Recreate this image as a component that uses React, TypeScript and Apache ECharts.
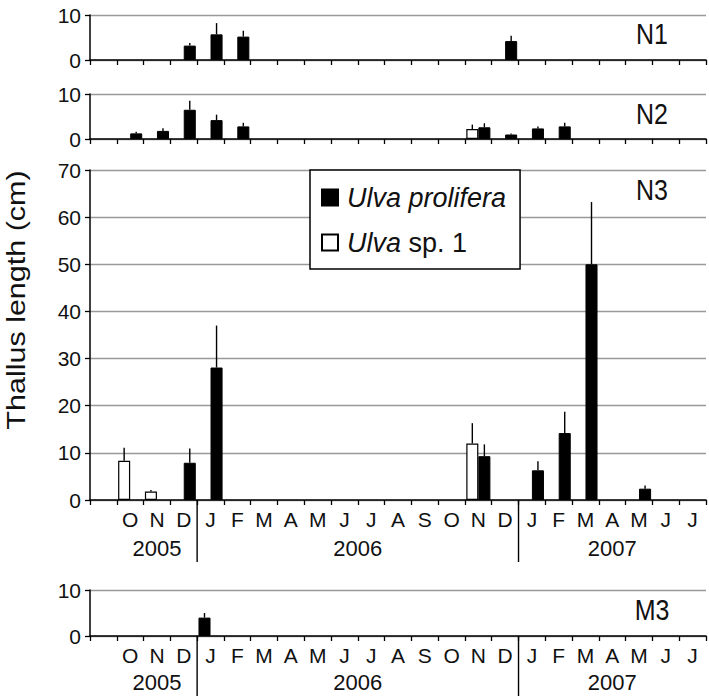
import React, { useEffect, useRef } from 'react';
import * as echarts from 'echarts';

// ---- Data ----
// Categories: Sep 2005 (blank) .. Jul 2007
const months = ['', 'O', 'N', 'D', 'J', 'F', 'M', 'A', 'M', 'J', 'J', 'A', 'S', 'O', 'N', 'D', 'J', 'F', 'M', 'A', 'M', 'J', 'J'];
const years = ['2005', '2006', '2007'];
const yearStart = [1, 4, 16];
const yearEnd = [3, 15, 22];
const panelNames = ['N1', 'N2', 'N3', 'M3'];
const panelMax = [10, 10, 70, 10];

const _ = null;
//                     -  O     N    D    J     F    M  A  M  J  J  A  S  O  N    D    J     F     M     A  M    J  J
const n1Prolifera = [_, _, _, 3.2, 5.7, 5.2, _, _, _, _, _, _, _, _, _, 4.2, _, _, _, _, _, _, _];
const n1ProliferaSD = [_, _, _, 0.6, 2.5, 1.3, _, _, _, _, _, _, _, _, _, 1.2, _, _, _, _, _, _, _];
const n1Sp1 = [_, _, _, _, _, _, _, _, _, _, _, _, _, _, _, _, _, _, _, _, _, _, _];
const n1Sp1SD = [_, _, _, _, _, _, _, _, _, _, _, _, _, _, _, _, _, _, _, _, _, _, _];

const n2Prolifera = [_, 1.25, 1.8, 6.5, 4.2, 2.8, _, _, _, _, _, _, _, _, 2.6, 1.0, 2.35, 2.8, _, _, _, _, _];
const n2ProliferaSD = [_, 0.35, 0.6, 2.0, 1.2, 0.8, _, _, _, _, _, _, _, _, 0.9, 0.25, 0.45, 0.8, _, _, _, _, _];
const n2Sp1 = [_, _, _, _, _, _, _, _, _, _, _, _, _, _, 2.2, _, _, _, _, _, _, _, _];
const n2Sp1SD = [_, _, _, _, _, _, _, _, _, _, _, _, _, _, 1.0, _, _, _, _, _, _, _, _];

const n3Prolifera = [_, _, _, 7.9, 28.1, _, _, _, _, _, _, _, _, _, 9.3, _, 6.3, 14.2, 50.0, _, 2.4, _, _];
const n3ProliferaSD = [_, _, _, 3.0, 8.9, _, _, _, _, _, _, _, _, _, 2.5, _, 1.9, 4.5, 13.2, _, 0.7, _, _];
const n3Sp1 = [_, 8.3, 1.8, _, _, _, _, _, _, _, _, _, _, _, 12.0, _, _, _, _, _, _, _, _];
const n3Sp1SD = [_, 2.8, 0.3, _, _, _, _, _, _, _, _, _, _, _, 4.3, _, _, _, _, _, _, _, _];

const m3Prolifera = [_, _, _, _, 4.0, _, _, _, _, _, _, _, _, _, _, _, _, _, _, _, _, _, _];
const m3ProliferaSD = [_, _, _, _, 1.0, _, _, _, _, _, _, _, _, _, _, _, _, _, _, _, _, _, _];
const m3Sp1 = [_, _, _, _, _, _, _, _, _, _, _, _, _, _, _, _, _, _, _, _, _, _, _];
const m3Sp1SD = [_, _, _, _, _, _, _, _, _, _, _, _, _, _, _, _, _, _, _, _, _, _, _];

const proliferaSets = [
  [n1Prolifera, n1ProliferaSD],
  [n2Prolifera, n2ProliferaSD],
  [n3Prolifera, n3ProliferaSD],
  [m3Prolifera, m3ProliferaSD],
];
const sp1Sets = [
  [n1Sp1, n1Sp1SD],
  [n2Sp1, n2Sp1SD],
  [n3Sp1, n3Sp1SD],
  [m3Sp1, m3Sp1SD],
];
// In M3 the single bar sits in the left slot
const proliferaFirst = [false, false, false, true];

const NAME_P = 'Ulva prolifera';
const NAME_S = 'Ulva sp. 1';

// ---- Layout ----
const gridTops = [15, 94, 170, 590];
const gridHeights = [45, 45, 330, 46];
const panelLabelY = [34, 114, 190, 610];
const yearOffset = [0, 0, 48, 46];
const dividerLen = [0, 0, 62, 62];
const FONT = "'Liberation Sans', Arial, sans-serif";

function errorSeries(panel: number, vals: (number | null)[], sds: (number | null)[], slot: number) {
  const data: number[][] = [];
  vals.forEach((v, i) => {
    if (v != null && sds[i] != null) data.push([i, v, v + (sds[i] as number)]);
  });
  return {
    type: 'custom',
    xAxisIndex: panel,
    yAxisIndex: panel,
    silent: true,
    z: 5,
    data,
    renderItem: (params: any, api: any) => {
      const idx = api.value(0);
      const p0 = api.coord([idx, api.value(1)]);
      const p1 = api.coord([idx, api.value(2)]);
      const bw = api.size([1, 0])[0];
      const x = p0[0] + slot * bw * 0.225;
      return {
        type: 'line',
        shape: { x1: x, y1: p0[1], x2: x, y2: p1[1] },
        style: { stroke: '#000', lineWidth: 1.4 },
      };
    },
  };
}

function yearSeries(panel: number) {
  return {
    type: 'custom',
    xAxisIndex: panel,
    yAxisIndex: panel,
    silent: true,
    clip: false,
    data: years.map((y, k) => [yearStart[k], 0, yearEnd[k], k]),
    renderItem: (params: any, api: any) => {
      const k = api.value(3);
      const s = api.coord([api.value(0), 0]);
      const e = api.coord([api.value(2), 0]);
      const bw = api.size([1, 0])[0];
      const children: any[] = [
        {
          type: 'text',
          style: {
            text: years[k],
            x: (s[0] + e[0]) / 2,
            y: s[1] + yearOffset[panel],
            align: 'center',
            verticalAlign: 'middle',
            fontSize: 22,
            fontFamily: FONT,
            fill: '#111',
          },
        },
      ];
      if (k > 0) {
        const xl = s[0] - bw / 2;
        children.push({
          type: 'line',
          shape: { x1: xl, y1: s[1], x2: xl, y2: s[1] + dividerLen[panel] },
          style: { stroke: '#000', lineWidth: 1.4 },
        });
      }
      return { type: 'group', children };
    },
  };
}

export default function App() {
  const ref = useRef<HTMLDivElement>(null);
  useEffect(() => {
    document.body.style.margin = '0';
    if (!ref.current) return;
    const chart = echarts.init(ref.current, undefined, { renderer: 'svg' });

    const grids = gridTops.map((t, i) => ({ left: 90, right: 3, top: t, height: gridHeights[i] }));
    const xAxes = panelNames.map((_n, i) => ({
      type: 'category',
      gridIndex: i,
      data: months,
      boundaryGap: true,
      axisLine: { show: true, lineStyle: { color: '#000', width: 1.5 } },
      axisTick: { show: true, length: 5, inside: false, lineStyle: { color: '#000', width: 1.3 } },
      axisLabel: {
        show: i >= 2,
        interval: 0,
        margin: 9,
        fontSize: 21,
        fontFamily: FONT,
        color: '#111',
      },
      splitLine: { show: false },
      z: 3,
    }));
    const yAxes = panelNames.map((_n, i) => ({
      type: 'value',
      gridIndex: i,
      min: 0,
      max: panelMax[i],
      interval: 10,
      axisLine: { show: true, lineStyle: { color: '#000', width: 1.5 } },
      axisTick: { show: true, length: 5, inside: false, lineStyle: { color: '#000', width: 1.3 } },
      axisLabel: { fontSize: 21, fontFamily: FONT, color: '#111', margin: 9 },
      splitLine: { show: true, lineStyle: { color: '#999', width: 1.3 } },
    }));

    const series: any[] = [];
    panelNames.forEach((_n, i) => {
      const pBar = {
        type: 'bar',
        name: NAME_P,
        xAxisIndex: i,
        yAxisIndex: i,
        data: proliferaSets[i][0],
        barGap: '0%',
        barCategoryGap: '10%',
        itemStyle: { color: '#000', borderColor: '#000', borderWidth: 1 },
        silent: true,
      };
      const sBar = {
        type: 'bar',
        name: NAME_S,
        xAxisIndex: i,
        yAxisIndex: i,
        data: sp1Sets[i][0],
        barGap: '0%',
        barCategoryGap: '10%',
        itemStyle: { color: '#fff', borderColor: '#000', borderWidth: 1.2 },
        silent: true,
      };
      if (proliferaFirst[i]) {
        series.push(pBar, sBar);
        series.push(errorSeries(i, proliferaSets[i][0], proliferaSets[i][1], -1));
        series.push(errorSeries(i, sp1Sets[i][0], sp1Sets[i][1], 1));
      } else {
        series.push(sBar, pBar);
        series.push(errorSeries(i, sp1Sets[i][0], sp1Sets[i][1], -1));
        series.push(errorSeries(i, proliferaSets[i][0], proliferaSets[i][1], 1));
      }
    });
    series.push(yearSeries(2), yearSeries(3));

    const panelLabels = panelNames.map((n, i) => ({
      type: 'text',
      x: 652,
      y: panelLabelY[i],
      scaleY: 1.15,
      style: {
        text: n,
        align: 'center',
        verticalAlign: 'middle',
        fontSize: 25,
        fontFamily: FONT,
        fill: '#111',
      },
    }));

    chart.setOption({
      animation: false,
      backgroundColor: '#fff',
      grid: grids,
      xAxis: xAxes,
      yAxis: yAxes,
      series,
      legend: {
        data: [NAME_P, NAME_S],
        orient: 'vertical',
        left: 310,
        top: 170,
        padding: [14, 14, 13, 11],
        itemGap: 18,
        itemWidth: 16,
        itemHeight: 16,
        backgroundColor: '#fff',
        borderColor: '#000',
        borderWidth: 1.5,
        borderRadius: 0,
        selectedMode: false,
        icon: 'rect',
        formatter: (name: string) =>
          name === NAME_P ? '{i|Ulva prolifera}' : '{i|Ulva} {n|sp. 1}',
        textStyle: {
          fontSize: 27,
          fontFamily: FONT,
          color: '#111',
          padding: [0, 0, 0, 4],
          rich: {
            i: { fontSize: 27, fontStyle: 'italic', fontFamily: FONT, color: '#111', lineHeight: 26 },
            n: { fontSize: 27, fontFamily: FONT, color: '#111', lineHeight: 26 },
          },
        },
        z: 10,
      },
      graphic: [
        {
          type: 'text',
          x: 16,
          y: 300,
          rotation: Math.PI / 2,
          scaleX: 1.22,
          style: {
            text: 'Thallus length (cm)',
            align: 'center',
            verticalAlign: 'middle',
            fontSize: 25,
            fontFamily: FONT,
            fill: '#111',
          },
        },
        ...panelLabels,
      ],
    });
    return () => chart.dispose();
  }, []);
  return <div ref={ref} style={{ width: 709, height: 696 }} />;
}
